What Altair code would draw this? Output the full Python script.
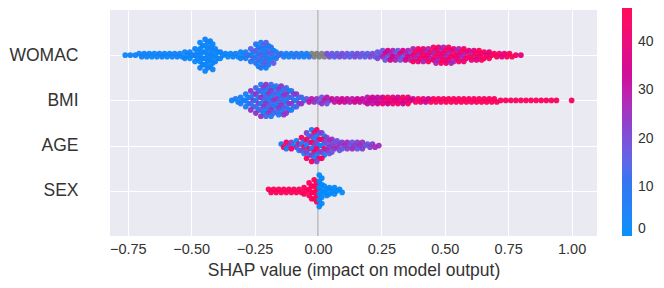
import altair as alt
import pandas as pd

# ---------------- data ----------------
FEATURES = ["WOMAC", "BMI", "AGE", "SEX"]
STEP = 0.02            # SHAP-value width of one swarm bin
ROW_SPACING = 0.07     # vertical distance between stacked dots (row units)

# number of stacked dots per bin, bins start at *_START and advance by STEP
WOMAC_START = -0.76
WOMAC_N = [1, 1, 1,
           2, 2, 2, 2, 2, 2, 2, 2, 2,
           3, 3, 5, 9, 11, 10, 5, 3,
           2, 2, 2, 3, 3,
           5, 8, 9, 9, 6, 3,
           2, 2, 2, 2, 2, 2, 2, 2, 2, 2, 2, 2, 2, 2, 2, 2, 2, 2, 2,
           3, 4, 4, 4, 4, 4, 4,
           5, 5, 5, 5, 6, 6, 6, 6, 5, 5, 5,
           4, 4, 4, 3, 3, 2, 2, 2, 2, 1, 1]
BMI_START = -0.34
BMI_N = [1, 2, 3, 5, 7, 9, 11, 11, 11, 10, 10, 9, 7, 5, 3,
         2, 2, 2, 3, 3, 2, 2, 2, 2, 2, 2, 2,
         3, 3, 3, 3, 3, 3, 3, 3, 3,
         2, 2, 2, 2, 2, 2, 2, 2, 2, 2, 2, 2, 2, 2, 2, 2, 2,
         1, 1, 1, 1, 1, 1, 1, 1, 1, 1, 1, 1, 0, 0, 1]
AGE_START = -0.14
AGE_N = [2, 3, 3, 4, 6, 9, 11, 11, 9, 6, 5, 4, 3, 3, 3, 3, 3, 2, 2, 1]
SEX_START = -0.19
SEX_N = [2, 2, 2, 2, 2, 2, 2, 3, 6, 8, 11, 4, 3, 3, 2]

# feature-value colour of the dots, by segment of SHAP value
# (segment boundaries, then three interleaved colour values per segment; None = missing/grey)
WOMAC_EDGES = [-0.29, -0.15, -0.03, 0.03, 0.25, 0.37, 0.61]
WOMAC_CA = [2, 4, 5, None, 16, 18, 28, 38]
WOMAC_CB = [4, 16, 9, None, 20, 36, 45, 46]
WOMAC_CC = [3, 8, 6, None, 18, 28, 40, 44]
BMI_EDGES = [-0.27, -0.05, 0.05, 0.25, 0.45]
BMI_CA = [4, 6, 18, 30, 34, 44]
BMI_CB = [6, 24, 30, 34, 44, 46]
BMI_CC = [5, 14, 24, 32, 40, 45]
AGE_EDGES = [0.03]
AGE_CA = [5, 22]
AGE_CB = [44, 26]
AGE_CC = [22, 18]
SEX_EDGES = [0.0]
SEX_CA = [46, 1]
SEX_CB = [46, 1]
SEX_CC = [46, 1]

X_TICKS = [-0.75, -0.5, -0.25, 0.0, 0.25, 0.5, 0.75, 1.0]
LEGEND_TICKS = [0, 10, 20, 30, 40]
COLOR_MAX = 47
COLOR_RANGE = ["#008bfb", "#2d6cf0", "#8a35c8", "#d5008a", "#ff0052"]

# ---------------- build the swarm table ----------------
spec = [
    (WOMAC_START, WOMAC_N, WOMAC_EDGES, WOMAC_CA, WOMAC_CB, WOMAC_CC),
    (BMI_START, BMI_N, BMI_EDGES, BMI_CA, BMI_CB, BMI_CC),
    (AGE_START, AGE_N, AGE_EDGES, AGE_CA, AGE_CB, AGE_CC),
    (SEX_START, SEX_N, SEX_EDGES, SEX_CA, SEX_CB, SEX_CC),
]
rows = []
for fi, (start, counts, edges, ca, cb, cc) in enumerate(spec):
    for b, n in enumerate(counts):
        xc = round(start + b * STEP, 4)
        seg = sum(xc > e for e in edges)
        cols = (ca[seg], cb[seg], cc[seg])
        for k in range(n):
            lvl = k - (n - 1) / 2
            dx = 0 if n == 1 else (STEP * 0.25 if k % 2 else -STEP * 0.25)
            rows.append({"x": xc + dx, "y": fi + lvl * ROW_SPACING,
                         "c": cols[(k + b) % 3]})
df = pd.DataFrame(rows)
df_grey = df[df["c"].isna()][["x", "y"]]
df_col = df[df["c"].notna()]

FONT = "Liberation Sans"
x_enc = alt.X(
    "x:Q",
    scale=alt.Scale(domain=[-0.82, 1.1], nice=False, zero=False),
    axis=alt.Axis(values=X_TICKS, format=".2f",
                  title="SHAP value (impact on model output)",
                  grid=True, gridColor="white", gridWidth=1,
                  ticks=False, domain=False, labelFontSize=14.5,
                  labelColor="#333333", titleFontSize=17.5,
                  titleColor="#333333", titleFontWeight="normal",
                  labelPadding=6, titlePadding=6),
)
y_enc = alt.Y(
    "y:Q",
    scale=alt.Scale(domain=[-1, 4], reverse=True, nice=False, zero=False),
    axis=alt.Axis(values=[0, 1, 2, 3],
                  labelExpr="['WOMAC','BMI','AGE','SEX'][datum.value]",
                  title=None, grid=True, gridColor="white", gridWidth=1,
                  ticks=False, domain=False, labelFontSize=17.5,
                  labelColor="#333333", labelPadding=32),
)

zero_line = alt.Chart(pd.DataFrame({"x": [0.0]})).mark_rule(
    color="#9a9a9a", strokeWidth=1
).encode(x="x:Q")

grey_pts = alt.Chart(df_grey).mark_circle(
    size=32, opacity=0.95, color="#808080"
).encode(x=x_enc, y=y_enc)

col_pts = alt.Chart(df_col).mark_circle(size=32, opacity=0.95).encode(
    x=x_enc, y=y_enc,
    color=alt.Color(
        "c:Q",
        scale=alt.Scale(domain=[0, COLOR_MAX], range=COLOR_RANGE, nice=False),
        legend=alt.Legend(title=None, orient="none", legendX=512, legendY=-2,
                          direction="vertical", gradientLength=228,
                          gradientThickness=10, gradientStrokeWidth=0,
                          values=LEGEND_TICKS, labelFontSize=14,
                          labelColor="#333333", labelOffset=6),
    ),
)

chart = alt.layer(zero_line, grey_pts, col_pts).properties(
    width=487, height=226,
    autosize=alt.AutoSizeParams(type="none"),
    padding={"left": 102, "top": 2, "right": 59, "bottom": 44},
).configure(font=FONT).configure_view(fill="#EAEAF2", stroke=None)

chart.save("out.html", embed_options={"renderer": "svg", "actions": False})
